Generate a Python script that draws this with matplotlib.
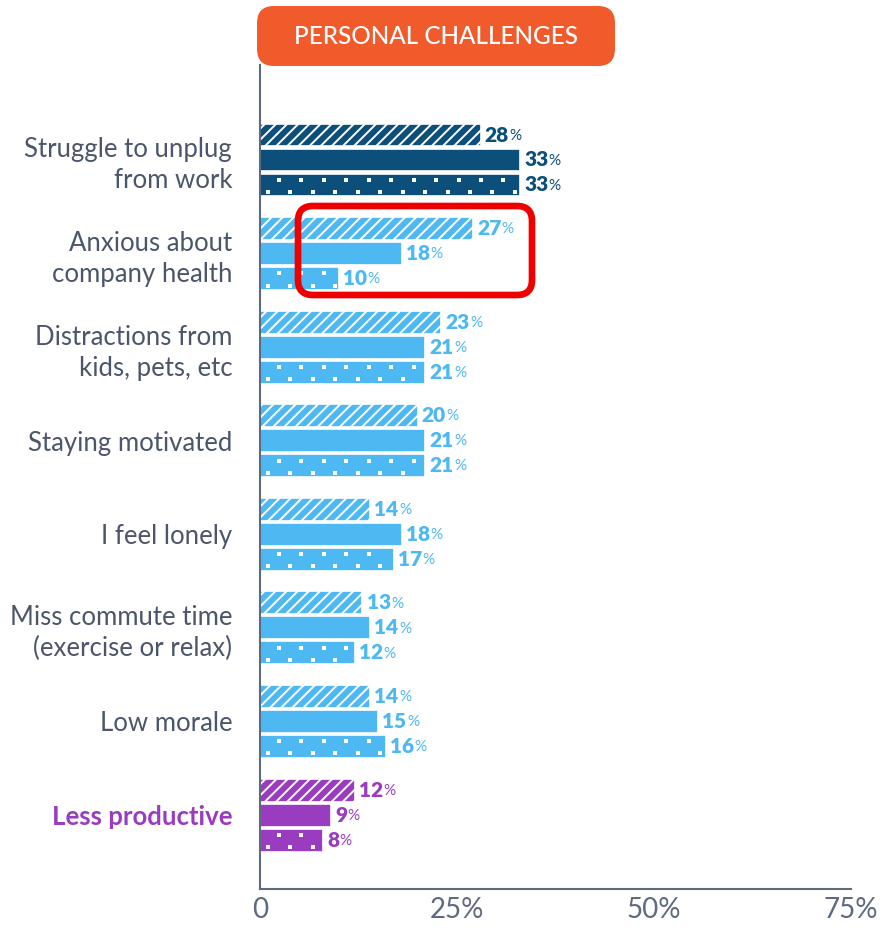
import matplotlib
matplotlib.use("Agg")
import numpy as np
import matplotlib.pyplot as plt
from matplotlib.patches import FancyBboxPatch

plt.rcParams['font.family'] = ['Lato', 'DejaVu Sans']
plt.rcParams['hatch.linewidth'] = 1.4

categories = ["Struggle to unplug\nfrom work", "Anxious about\ncompany health",
              "Distractions from\nkids, pets, etc", "Staying motivated",
              "I feel lonely", "Miss commute time\n(exercise or relax)",
              "Low morale", "Less productive"]
series_hatched = [28, 27, 23, 20, 14, 13, 14, 12]
series_solid = [33, 18, 21, 21, 18, 14, 15, 9]
series_dotted = [33, 10, 21, 21, 17, 12, 16, 8]
tick_values = [0, 25, 50, 75]
tick_labels = ["0", "25%", "50%", "75%"]

NAVY = "#0b4f7a"
BLUE = "#4db8f2"
PURPLE = "#9a3cc0"
AXIS = "#5d6a80"
TEXT = "#4b566c"
row_colors = [NAVY] + [BLUE] * 6 + [PURPLE]

W, H = 884, 930
fig = plt.figure(figsize=(W / 100, H / 100), dpi=100)
ax = fig.add_axes([260 / W, 41 / H, (851 - 260) / W, (889 - 65) / H])

offset = 0.267
bar_h = 0.245
series = [(series_hatched, -offset, '///'), (series_solid, 0, None), (series_dotted, offset, 'dots')]

dot_step = 2.85
for vals, dy, style in series:
    for i, v in enumerate(vals):
        c = row_colors[i]
        hatch = '///' if style == '///' else None
        ax.barh(i + dy, v, height=bar_h, color=c, edgecolor='white', hatch=hatch,
                linewidth=1.2, zorder=2)
        if style == 'dots':
            # staggered square dots, two rows
            for start, ry in [(2.4, -0.055), (1.0, 0.075)]:
                xs = np.arange(start, v - 0.4, dot_step)
                ax.scatter(xs, np.full(len(xs), i + dy + ry), marker='s', s=9,
                           color='white', linewidths=0, zorder=3)
        num = ax.annotate(f"{v}", xy=(v, i + dy), xytext=(3, 0), textcoords='offset points',
                          va='center', ha='left', fontsize=15, fontweight='heavy', color=c)
        ax.annotate("%", xy=(1, 0), xycoords=num, xytext=(0.3, 1.3), textcoords='offset points',
                    va='bottom', ha='left', fontsize=11, color=c)

ax.set_xlim(0, 75)
ax.set_ylim(7.79, -1.015)
ax.set_yticks(range(len(categories)))
ax.set_yticklabels(categories, fontsize=18.5, color=TEXT, linespacing=1.3)
ax.get_yticklabels()[-1].set_color(PURPLE)
ax.get_yticklabels()[-1].set_fontweight('bold')
ax.tick_params(axis='y', length=0, pad=20)
ax.set_xticks(tick_values)
ax.set_xticklabels(tick_labels, fontsize=20, color=AXIS)
ax.tick_params(axis='x', length=0, pad=6)
for s in ['top', 'right']:
    ax.spines[s].set_visible(False)
for s in ['left', 'bottom']:
    ax.spines[s].set_color(AXIS)
    ax.spines[s].set_linewidth(1.5)

# title pill
title_box = FancyBboxPatch((2.57, 9.30 - 0.66), 3.58, 0.60,
                           boxstyle="round,pad=0,rounding_size=0.17",
                           transform=fig.dpi_scale_trans, facecolor="#f15b2c",
                           edgecolor='none')
fig.patches.append(title_box)
fig.text(436 / W, 1 - 37 / H, "PERSONAL CHALLENGES", ha='center', va='center',
         color='white', fontsize=17.5, fontweight='medium')

# highlight around the health-anxiety row
highlight = FancyBboxPatch((2.98, 9.30 - 2.95), 2.34, 0.89,
                           boxstyle="round,pad=0,rounding_size=0.15",
                           transform=fig.dpi_scale_trans, facecolor='none',
                           edgecolor='#ee0000', linewidth=4.8, zorder=5)
fig.patches.append(highlight)

fig.savefig("out.png", dpi=100)
